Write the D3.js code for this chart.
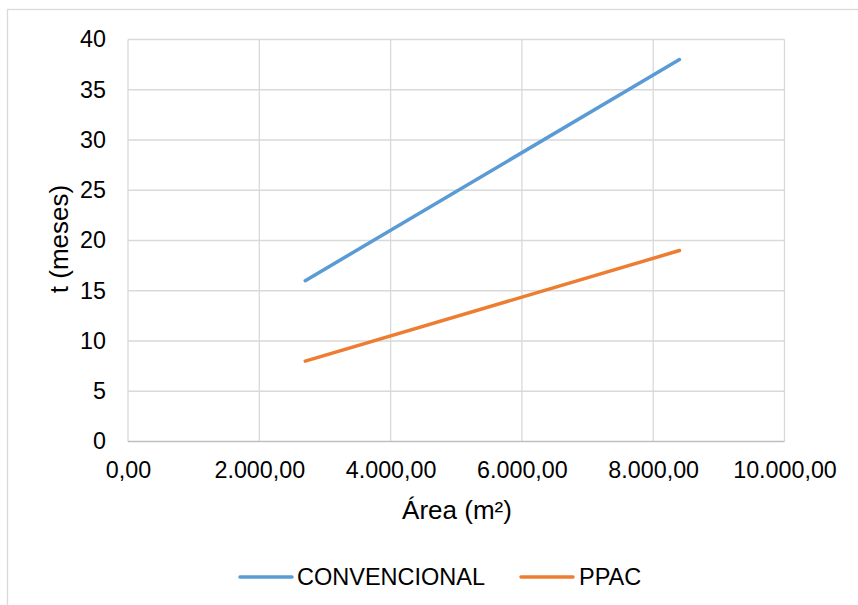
<!DOCTYPE html>
<html><head><meta charset="utf-8">
<script src="https://cdn.jsdelivr.net/npm/d3@7"></script>
<style>body{margin:0;background:#fff}svg{display:block}text{font-family:"Liberation Sans",Arial,sans-serif;fill:#000}</style>
</head><body>
<script>
const seriesNames = ["CONVENCIONAL", "PPAC"];
const areaValues = [2700, 8400];
const convencionalValues = [16, 38];
const ppacValues = [8, 19];
const xTicks = [0, 2000, 4000, 6000, 8000, 10000];
const yTicks = [0, 5, 10, 15, 20, 25, 30, 35, 40];
const colors = ["#5B9BD5", "#ED7D31"];

(function () {
const W = 858, H = 605;
const svg = d3.select("body").append("svg").attr("width", W).attr("height", H);
svg.append("rect").attr("x", 7.5).attr("y", 9.5).attr("width", 900).attr("height", 700)
  .attr("fill", "#fff").attr("stroke", "#d9d9d9").attr("stroke-width", 1.3);

const mLeft = 128, mRight = 784.5, mTop = 39.5, mBottom = 441.5;
const x = d3.scaleLinear().domain([0, 10000]).range([mLeft, mRight]);
const y = d3.scaleLinear().domain([0, 40]).range([mBottom, mTop]);

const loc = d3.formatLocale({decimal: ",", thousands: ".", grouping: [3], currency: ["", ""]});
const fmt = loc.format(",.2f");

svg.append("g").selectAll("line").data(yTicks.slice(1)).join("line")
  .attr("x1", mLeft).attr("x2", mRight).attr("y1", d => y(d)).attr("y2", d => y(d))
  .attr("stroke", "#d9d9d9").attr("stroke-width", 1.3);
svg.append("g").selectAll("line").data(xTicks).join("line")
  .attr("y1", mTop).attr("y2", mBottom).attr("x1", d => x(d)).attr("x2", d => x(d))
  .attr("stroke", "#d9d9d9").attr("stroke-width", 1.3);
svg.append("line").attr("x1", mLeft).attr("x2", mRight).attr("y1", mBottom).attr("y2", mBottom)
  .attr("stroke", "#bfbfbf").attr("stroke-width", 1.3);

const xAxis = svg.append("g").attr("transform", `translate(0,${mBottom})`)
  .call(d3.axisBottom(x).tickValues(xTicks).tickFormat(fmt).tickSize(0).tickPadding(20));
xAxis.select(".domain").remove();
xAxis.selectAll("text").attr("font-size", 23.3).attr("font-family", "Liberation Sans, Arial, sans-serif").attr("fill", "#000");

const yAxis = svg.append("g").attr("transform", `translate(${mLeft},0)`)
  .call(d3.axisLeft(y).tickValues(yTicks).tickFormat(d3.format("d")).tickSize(0).tickPadding(22));
yAxis.select(".domain").remove();
yAxis.selectAll("text").attr("font-size", 23.3).attr("font-family", "Liberation Sans, Arial, sans-serif").attr("fill", "#000");

svg.append("text").attr("x", 457).attr("y", 519).attr("text-anchor", "middle")
  .attr("font-size", 26).text("Área (m²)");
svg.append("text").attr("transform", "translate(68,239) rotate(-90)").attr("text-anchor", "middle")
  .attr("font-size", 26).text("t (meses)");

const line = d3.line().x(d => x(d[0])).y(d => y(d[1]));
const series = [convencionalValues, ppacValues];
series.forEach((vals, i) => {
  svg.append("path").datum(areaValues.map((a, j) => [a, vals[j]]))
    .attr("d", line).attr("fill", "none").attr("stroke", colors[i])
    .attr("stroke-width", 3.5).attr("stroke-linecap", "round");
});

const legendItems = [{x: 240, tx: 297}, {x: 521, tx: 579}];
seriesNames.forEach((n, i) => {
  const it = legendItems[i];
  svg.append("line").attr("x1", it.x).attr("x2", it.x + 52).attr("y1", 577).attr("y2", 577)
    .attr("stroke", colors[i]).attr("stroke-width", 3.5).attr("stroke-linecap", "round");
  svg.append("text").attr("x", it.tx).attr("y", 585).attr("font-size", 23.5).text(n);
});
})();
</script>
</body></html>
